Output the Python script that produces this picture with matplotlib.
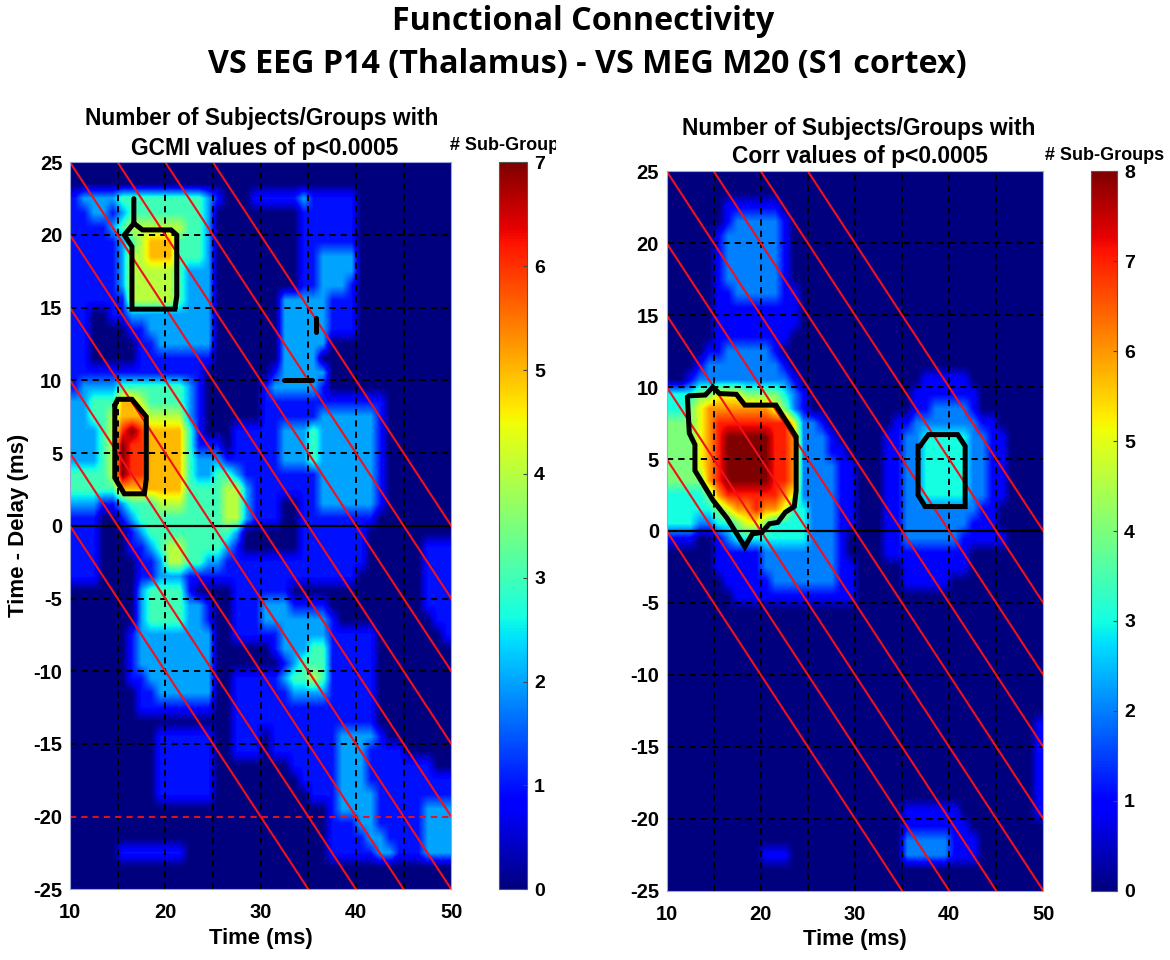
import numpy as np
import matplotlib
matplotlib.use("Agg")
import matplotlib.pyplot as plt
from matplotlib.transforms import Bbox

plt.rcParams['font.family'] = ['Liberation Sans', 'DejaVu Sans']
plt.rcParams['font.weight'] = 'bold'
plt.rcParams['axes.unicode_minus'] = False

# counts per cell, 1 ms wide, 1 ms high. first row is delay 25..24, first column time 10..11
gcmi_rows = [
    "0000000000 0000000000 0000000000 0000000000",
    "0000000000 0000000000 0000000000 0000000000",
    "1222233333 3333210001 1111211111 0000000000",
    "1122123333 3333200000 0000111111 0000000000",
    "1111234444 4433200000 0000111111 0000000000",
    "1111123455 5333200000 0000111111 0000000000",
    "1111124455 5333200000 0000112222 0000000000",
    "1111124444 4322200000 0000112222 0000000000",
    "1111124444 4322200000 0000112221 0000000000",
    "1111114444 4322200000 0022222111 0000000000",
    "1100112222 2222200000 0022222111 0000000000",
    "1100001122 2222200000 0022222111 0000000000",
    "1100000112 2222200000 0022222000 0000000000",
    "1100000111 1111100000 0022220000 0000000000",
    "1111111111 1111000000 0122222000 0000000000",
    "1222233333 3321000000 1222221000 0000000000",
    "2233355433 3321000000 1111111111 1110000000",
    "2233455544 4421000000 1111112222 2210000000",
    "2223467655 5531000111 1122232222 2210000000",
    "2223476655 5531110111 1122232222 2210000000",
    "2223476655 5532221111 1122232222 2210000000",
    "3333476655 5532233211 1111112222 2210000000",
    "3333355555 5533334421 1111112222 2210000000",
    "2221123334 4433334421 1100112222 2210000000",
    "1110012333 3333334421 1100111111 1100000000",
    "1110001233 3333333200 0000111111 1000000000",
    "1110001123 4433332100 0000111111 1000000111",
    "1110000112 4433221111 1111111111 1000000111",
    "1110000112 2211111111 1111111111 0000000111",
    "0000000233 3310000111 1110000000 0000000111",
    "0000000233 3322100111 2221111000 0000000111",
    "0000000233 3322100111 2222222100 0000000011",
    "0000001222 2222200111 1122222111 1100000001",
    "0000001222 2222200000 0122233111 1100000000",
    "0000001222 2222200000 0012333111 1100000000",
    "0000001122 2222200111 1123343111 1100000000",
    "0000000112 2222200111 1112222111 1100000000",
    "0000000111 1111100111 1111111111 1100000000",
    "0000000000 0000000111 1111111111 1100000000",
    "0000000001 1111100111 0111111122 2210000000",
    "0000000001 1111100111 0111111122 2111100000",
    "0000000001 1111100000 0001111122 2111111100",
    "0000000001 1111100000 0000111122 2111111111",
    "0000000001 1111100000 0000011122 2211111111",
    "0000000000 0000000000 0000000122 2211111222",
    "0000000000 0000000000 0000000111 2211111222",
    "0000000000 0000000000 0000000111 1221111222",
    "0000011111 1100000000 0000000111 1122111222",
    "0000000000 0000000000 0000000000 0000000000",
    "0000000000 0000000000 0000000000 0000000000",
]

corr_rows = [
    "0000000000 0000000000 0000000000 0000000000",
    "0000000000 0000000000 0000000000 0000000000",
    "0000001111 1100000000 0000000000 0000000000",
    "0000001222 2210000000 0000000000 0000000000",
    "0000012222 2210000000 0000000000 0000000000",
    "0000012222 2210000000 0000000000 0000000000",
    "0000012222 2210000000 0000000000 0000000000",
    "0000012222 2210000000 0000000000 0000000000",
    "0000011222 2211000000 0000000000 0000000000",
    "0000011111 1111000000 0000000000 0000000000",
    "0000011111 1111000000 0000000000 0000000000",
    "0000011111 1110000000 0000000000 0000000000",
    "0000112222 2100000000 0000000000 0000000000",
    "0001222222 2210000000 0000000000 0000000000",
    "0012222222 2221000000 0000000111 1100000000",
    "3334455544 4432100000 0000001111 1110000000",
    "3345666666 6542100000 0000001122 2210000000",
    "4445677777 7775221000 0000112222 2221100000",
    "4445678888 8776222100 0001122333 3322110000",
    "4445678888 8776222110 0001122333 3322110000",
    "4445678888 8776222211 0001122333 3322110000",
    "4444678888 8776222211 0001122333 3322110000",
    "3333467777 7765222211 0001122333 3322110000",
    "3333345667 6653322211 0001122222 2221100000",
    "3332233455 4333322211 0001122222 2211100000",
    "1110012333 3333322210 0001122222 2111110000",
    "0000011111 2222222210 0001111111 1100000000",
    "0000011111 2222222211 0000011111 1100000000",
    "0000001111 1222222211 0000011111 0000000000",
    "0000000111 1111111111 0000000000 0000000000",
    "0000000000 0000000000 0000000000 0000000000",
    "0000000000 0000000000 0000000000 0000000000",
    "0000000000 0000000000 0000000000 0000000000",
    "0000000000 0000000000 0000000000 0000000000",
    "0000000000 0000000000 0000000000 0000000000",
    "0000000000 0000000000 0000000000 0000000000",
    "0000000000 0000000000 0000000000 0000000000",
    "0000000000 0000000000 0000000000 0000000000",
    "0000000000 0000000000 0000000000 0000000001",
    "0000000000 0000000000 0000000000 0000000001",
    "0000000000 0000000000 0000000000 0000000001",
    "0000000000 0000000000 0000000000 0000000001",
    "0000000000 0000000000 0000000000 0000000001",
    "0000000000 0000000000 0000000000 0000000001",
    "0000000000 0000000000 0000011111 1000000001",
    "0000000000 0000000000 0000011111 1100000000",
    "0000000000 0000000000 0000022222 1110000000",
    "0000000000 1110000000 0000022222 1110000000",
    "0000000000 0000000000 0000000000 0000000000",
    "0000000000 0000000000 0000000000 0000000000",
]

# significance outlines, time and delay in ms
gcmi_top_t = [16.7, 16.7, 15.7, 16.5, 16.5, 21.0, 21.2, 21.2, 20.6, 17.6, 16.7]
gcmi_top_d = [22.5, 20.8, 20.0, 19.2, 14.9, 14.9, 15.8, 20.0, 20.35, 20.35, 20.8]
gcmi_low_t = [14.7, 15.0, 16.5, 18.0, 18.0, 17.8, 15.7, 14.7, 14.7]
gcmi_low_d = [8.3, 8.7, 8.7, 7.5, 3.2, 2.2, 2.2, 3.3, 8.3]
gcmi_bar_t = [32.4, 35.4]
gcmi_bar_d = [10.0, 10.0]
gcmi_tick_t = [35.8, 35.8]
gcmi_tick_d = [14.3, 13.3]

corr_big_t = [12.2, 12.4, 13.0, 13.0, 14.9, 16.4, 18.3, 19.1, 20.1, 20.9, 21.8, 22.6, 23.55,
              23.75, 23.75, 21.6, 18.3, 17.4, 15.6, 14.9, 14.1, 12.4, 12.2]
corr_big_d = [9.3, 6.8, 6.0, 4.2, 2.15, 0.9, -1.1, -0.2, -0.1, 0.5, 0.6, 1.3, 1.7,
              2.8, 6.55, 8.75, 8.75, 9.5, 9.55, 10.0, 9.45, 9.4, 9.3]
corr_box_t = [36.9, 37.8, 40.9, 41.7, 41.7, 37.45, 36.7, 36.7, 36.9]
corr_box_d = [5.9, 6.7, 6.7, 5.9, 1.7, 1.7, 2.5, 5.9, 5.9]

time_ticks = [10, 20, 30, 40, 50]
delay_ticks = [-25, -20, -15, -10, -5, 0, 5, 10, 15, 20, 25]
grid_t = [10, 15, 20, 25, 30, 35, 40, 45]
grid_d = [-20, -15, -10, -5, 5, 10, 15, 20]
# red lines are time + delay = const
diag_const = [10, 15, 20, 25, 30, 35, 40, 45, 50]

W, H = 1170, 960


def to_matrix(rows):
    return np.array([[int(c) for c in r.replace(" ", "")] for r in rows], dtype=float)


def px_axes(fig, left, top, right, bottom):
    return fig.add_axes([left / W, 1 - bottom / H, (right - left) / W, (bottom - top) / H])


def draw_panel(fig, box, cbar_box, rows, vmax, outlines, red_line=None):
    ax = px_axes(fig, *box)
    im = ax.imshow(to_matrix(rows), extent=[10, 50, -25, 25], aspect='auto', cmap='jet',
                   vmin=0, vmax=vmax, interpolation='bilinear')
    dash = (0, (3.2, 2.6))
    for t in grid_t:
        ax.axvline(t, color='k', lw=1.4, ls=dash)
    for d in grid_d:
        if d == red_line:
            ax.axhline(d, color='#e8101a', lw=1.4, ls=dash)
        else:
            ax.axhline(d, color='k', lw=1.4, ls=dash)
    ax.axhline(0, color='k', lw=1.6)
    tt = np.array([10, 50])
    for c in diag_const:
        ax.plot(tt, c - tt, color='#f2101a', lw=1.5)
    for t, d in outlines:
        ax.plot(t, d, color='k', lw=3.6, solid_capstyle='round', solid_joinstyle='miter')
    ax.set_xlim(10, 50)
    ax.set_ylim(-25, 25)
    ax.set_xticks(time_ticks)
    ax.set_yticks(delay_ticks)
    ax.tick_params(axis='x', length=0, labelsize=14.5, pad=10)
    ax.tick_params(axis='y', length=0, labelsize=14.5, pad=5.5)
    ax.set_xlabel('Time (ms)', fontsize=15.8, fontweight='bold', labelpad=4)
    for s in ax.spines.values():
        s.set_color('#9aa6d8')
        s.set_linewidth(0.8)

    cax = px_axes(fig, *cbar_box)
    cb = fig.colorbar(im, cax=cax)
    cb.set_ticks(range(0, vmax + 1))
    cax.tick_params(labelsize=14, length=3, direction='in', width=0.8, color='#444444', pad=5)
    cb.outline.set_edgecolor('#555555')
    cb.outline.set_linewidth(0.8)
    return ax


fig = plt.figure(figsize=(W / 100, H / 100), dpi=100, facecolor='white')

ax1 = draw_panel(fig, (70, 162.3, 451.3, 889.3), (499.3, 162.3, 527.3, 889.3), gcmi_rows, 7,
                 [(gcmi_top_t, gcmi_top_d), (gcmi_low_t, gcmi_low_d),
                  (gcmi_bar_t, gcmi_bar_d), (gcmi_tick_t, gcmi_tick_d)],
                 red_line=-20)
ax1.set_ylabel('Time - Delay (ms)', fontsize=16, fontweight='bold', labelpad=3)
ax2 = draw_panel(fig, (666.7, 171.3, 1043.3, 890.7), (1090.7, 171.3, 1117.3, 890.7), corr_rows, 8,
                 [(corr_big_t, corr_big_d), (corr_box_t, corr_box_d)])


def text_px(x, y, s, **kw):
    return fig.text(x / W, 1 - y / H, s, ha='center', va='center', **kw)


text_px(583, 21, 'Functional Connectivity', fontsize=23.2, family=['Open Sans', 'DejaVu Sans'])
text_px(587, 65, 'VS EEG P14 (Thalamus) - VS MEG M20 (S1 cortex)', fontsize=23.2,
        family=['Open Sans', 'DejaVu Sans'])
text_px(262, 119, 'Number of Subjects/Groups with', fontsize=16.4)
text_px(265, 148, 'GCMI values of p<0.0005', fontsize=16.4)
text_px(859, 129, 'Number of Subjects/Groups with', fontsize=16.4)
text_px(860, 157, 'Corr values of p<0.0005', fontsize=16.4)

# the left heading runs off its panel in the source, cut at 556 px
lab = fig.text(450 / W, 1 - 146 / H, '# Sub-Groups', ha='left', va='center', fontsize=13)
lab.set_clip_box(Bbox([[0, 0], [556, H]]))
lab.set_clip_on(True)
text_px(1105, 155, '# Sub-Groups', fontsize=13)

fig.savefig('out.png', dpi=100, facecolor='white')
